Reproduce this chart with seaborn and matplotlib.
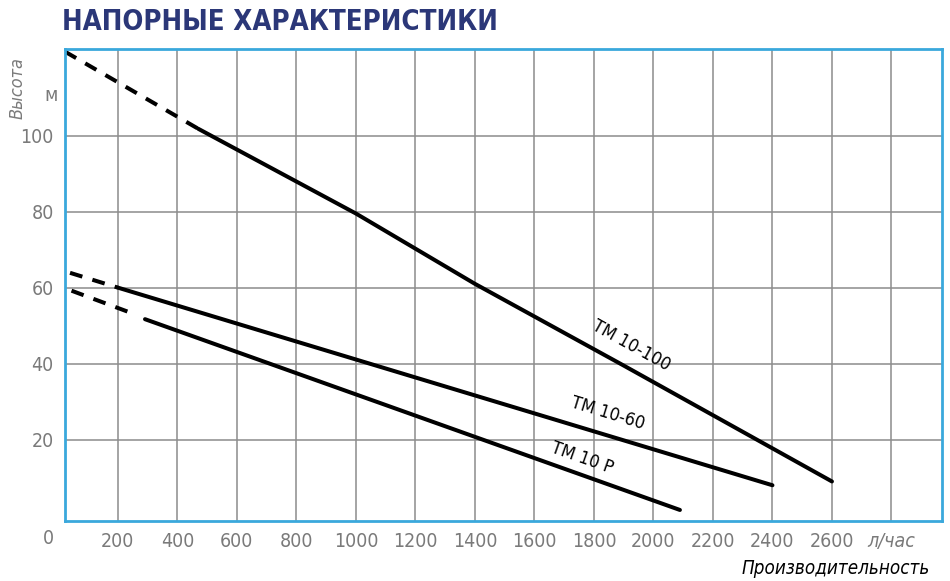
import pandas as pd
import matplotlib.pyplot as plt
import seaborn as sns

models = ['TM 10-100', 'TM 10-60', 'TM 10 P']

# пунктир - экстраполяция, сплошная - рабочий участок
tm100_dash_q = [22, 470]
tm100_dash_h = [122.1, 101.8]
tm100_q = [470, 1000, 1400, 1900, 2600]
tm100_h = [101.8, 79.5, 61.0, 39.5, 9.0]

tm60_dash_q = [39, 200]
tm60_dash_h = [63.9, 60.0]
tm60_q = [200, 2400]
tm60_h = [60.0, 8.0]

tm10p_dash_q = [44, 246]
tm10p_dash_h = [59.2, 53.3]
tm10p_q = [291, 2089]
tm10p_h = [51.7, 1.5]

x_ticks = [200, 400, 600, 800, 1000, 1200, 1400, 1600, 1800, 2000, 2200, 2400, 2600, 2800]
x_labels = ['200', '400', '600', '800', '1000', '1200', '1400', '1600', '1800',
            '2000', '2200', '2400', '2600', 'л/час']
y_ticks = [20, 40, 60, 80, 100]

# подписи кривых: положение и угол наклона
label_q = [1924, 1847, 1759]
label_h = [44.7, 27.0, 15.2]
label_rot = [-29, -17, -19.5]

rows = []
for name, dq, dh, q, h in [
    (models[0], tm100_dash_q, tm100_dash_h, tm100_q, tm100_h),
    (models[1], tm60_dash_q, tm60_dash_h, tm60_q, tm60_h),
    (models[2], tm10p_dash_q, tm10p_dash_h, tm10p_q, tm10p_h),
]:
    for a, b in zip(dq, dh):
        rows.append({'model': name, 'part': 'dash', 'q': a, 'h': b})
    for a, b in zip(q, h):
        rows.append({'model': name, 'part': 'solid', 'q': a, 'h': b})
df = pd.DataFrame(rows)

sns.set_theme(style='white')
plt.rcParams['font.family'] = ['DejaVu Sans']
plt.rcParams['font.stretch'] = 'condensed'

GRAY = '#7a7a7a'
BLUE = '#3aa8dc'

fig = plt.figure(figsize=(9.5, 5.81), dpi=100)
ax = fig.add_axes([0.0684, 0.1033, 0.9232, 0.8124])

sns.lineplot(
    data=df, x='q', y='h',
    hue='model', palette={m: 'black' for m in models},
    style='part', dashes={'solid': '', 'dash': (3.2, 2.6)},
    estimator=None, sort=False, linewidth=2.9, legend=False, ax=ax,
)

ax.set_xlim(22, 2970)
ax.set_ylim(-1.4, 122.8)
ax.set_xticks(x_ticks)
ax.set_xticklabels(x_labels, fontsize=14, color=GRAY)
ax.get_xticklabels()[-1].set_style('italic')
ax.set_yticks(y_ticks)
ax.set_yticklabels([str(v) for v in y_ticks], fontsize=14, color=GRAY)
ax.tick_params(axis='x', length=0, pad=8)
ax.tick_params(axis='y', length=0, pad=8)

ax.grid(True, color='#8c8c8c', linewidth=1.1)
ax.set_axisbelow(True)
for sp in ax.spines.values():
    sp.set_color(BLUE)
    sp.set_linewidth(2)

ax.set_xlabel('')
ax.set_ylabel('')

for name, q, h, r in zip(models, label_q, label_h, label_rot):
    ax.text(q, h, name, rotation=r, rotation_mode='anchor',
            ha='center', va='center', fontsize=13, color='black')

# подписи осей
fig.text(0.065, 0.962, 'НАПОРНЫЕ ХАРАКТЕРИСТИКИ', fontsize=19.8, fontweight='bold',
         color='#2b3778', ha='left', va='center')
fig.text(0.019, 0.848, 'Высота', rotation=90, style='italic', fontsize=13,
         color=GRAY, ha='center', va='center')
ax.text(-0.016, 110.5, 'м', transform=ax.get_yaxis_transform(), fontsize=14,
        color=GRAY, ha='center', va='center')
fig.text(0.051, 0.074, '0', fontsize=14, color=GRAY, ha='center', va='center')
fig.text(0.979, 0.022, 'Производительность', style='italic', fontsize=13.5,
         color='black', ha='right', va='center')

plt.savefig('out.png', dpi=100)
